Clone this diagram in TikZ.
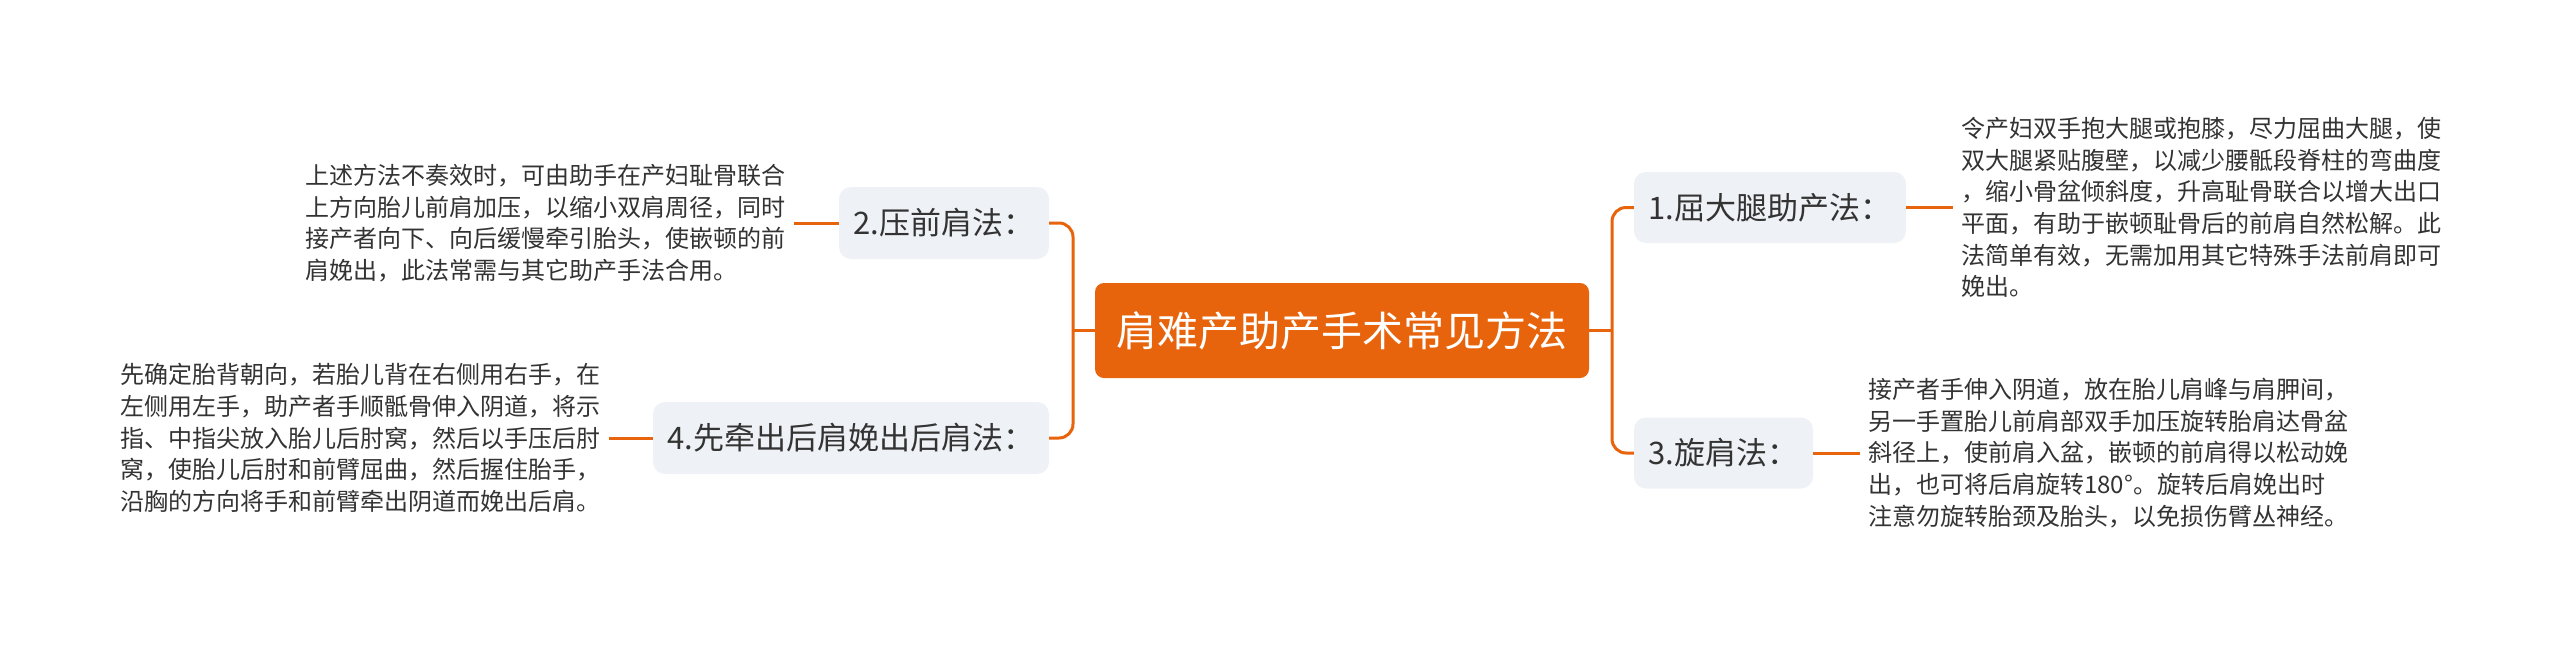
\documentclass[tikz,border=0pt]{standalone}
\usepackage{fontspec}
\setmainfont{Noto Sans CJK SC}
\definecolor{org}{HTML}{E8640C}
\definecolor{gbox}{HTML}{EEF1F5}
\definecolor{tx}{HTML}{333333}
\tikzset{
  conn/.style={draw=org, line width=3pt},
  topic/.style={fill=gbox, rounded corners=12pt, text=tx, inner sep=0pt,
    font=\fontsize{31pt}{36pt}\selectfont},
  leaf/.style={text=tx, align=left, inner xsep=8pt, inner ysep=0pt,
    font=\fontsize{24pt}{31.7pt}\selectfont},
  root/.style={fill=org, rounded corners=9pt, text=white, inner sep=0pt,
    font=\fontsize{41pt}{48pt}\selectfont}
}
\begin{document}
\begin{tikzpicture}[x=1pt, y=-1pt]
\useasboundingbox[fill=white] (0,0) rectangle (2560,646);
\node[root, minimum width=494pt, minimum height=95pt] (c) at (1342,330.5) {肩难产助产手术常见方法};
\node[topic, minimum width=272pt, minimum height=71pt] (n1) at (1770,207.5) {1.屈大腿助产法：};
\node[topic, minimum width=210pt, minimum height=72pt] (n2) at (944,223) {2.压前肩法：};
\node[topic, minimum width=179pt, minimum height=71pt] (n3) at (1723.5,453) {3.旋肩法：};
\node[topic, minimum width=396pt, minimum height=72pt] (n4) at (851,438) {4.先牵出后肩娩出后肩法：};
\coordinate (sl) at (1073,330.5);
\coordinate (sr) at (1612,330.5);
\draw[conn, rounded corners=14pt] (n2.east) -| (sl) |- (n4.east);
\draw[conn] (c.west) -- (sl);
\draw[conn, rounded corners=14pt] (n1.west) -| (sr) |- (n3.west);
\draw[conn] (c.east) -- (sr);
\node[leaf, anchor=west] (t1) at (1953,207.5) {令产妇双手抱大腿或抱膝，尽力屈曲大腿，使\\双大腿紧贴腹壁，以减少腰骶段脊柱的弯曲度\\，缩小骨盆倾斜度，升高耻骨联合以增大出口\\平面，有助于嵌顿耻骨后的前肩自然松解。此\\法简单有效，无需加用其它特殊手法前肩即可\\娩出。};
\node[leaf, anchor=east] (t2) at (794,223) {上述方法不奏效时，可由助手在产妇耻骨联合\\上方向胎儿前肩加压，以缩小双肩周径，同时\\接产者向下、向后缓慢牵引胎头，使嵌顿的前\\肩娩出，此法常需与其它助产手法合用。};
\node[leaf, anchor=west] (t3) at (1860,453) {接产者手伸入阴道，放在胎儿肩峰与肩胛间，\\另一手置胎儿前肩部双手加压旋转胎肩达骨盆\\斜径上，使前肩入盆，嵌顿的前肩得以松动娩\\出，也可将后肩旋转180°。旋转后肩娩出时\\注意勿旋转胎颈及胎头，以免损伤臂丛神经。};
\node[leaf, anchor=east] (t4) at (609,438) {先确定胎背朝向，若胎儿背在右侧用右手，在\\左侧用左手，助产者手顺骶骨伸入阴道，将示\\指、中指尖放入胎儿后肘窝，然后以手压后肘\\窝，使胎儿后肘和前臂屈曲，然后握住胎手，\\沿胸的方向将手和前臂牵出阴道而娩出后肩。};
\draw[conn] (n1.east) -- (t1.west);
\draw[conn] (n2.west) -- (t2.east);
\draw[conn] (n3.east) -- (t3.west);
\draw[conn] (n4.west) -- (t4.east);
\end{tikzpicture}
\end{document}
